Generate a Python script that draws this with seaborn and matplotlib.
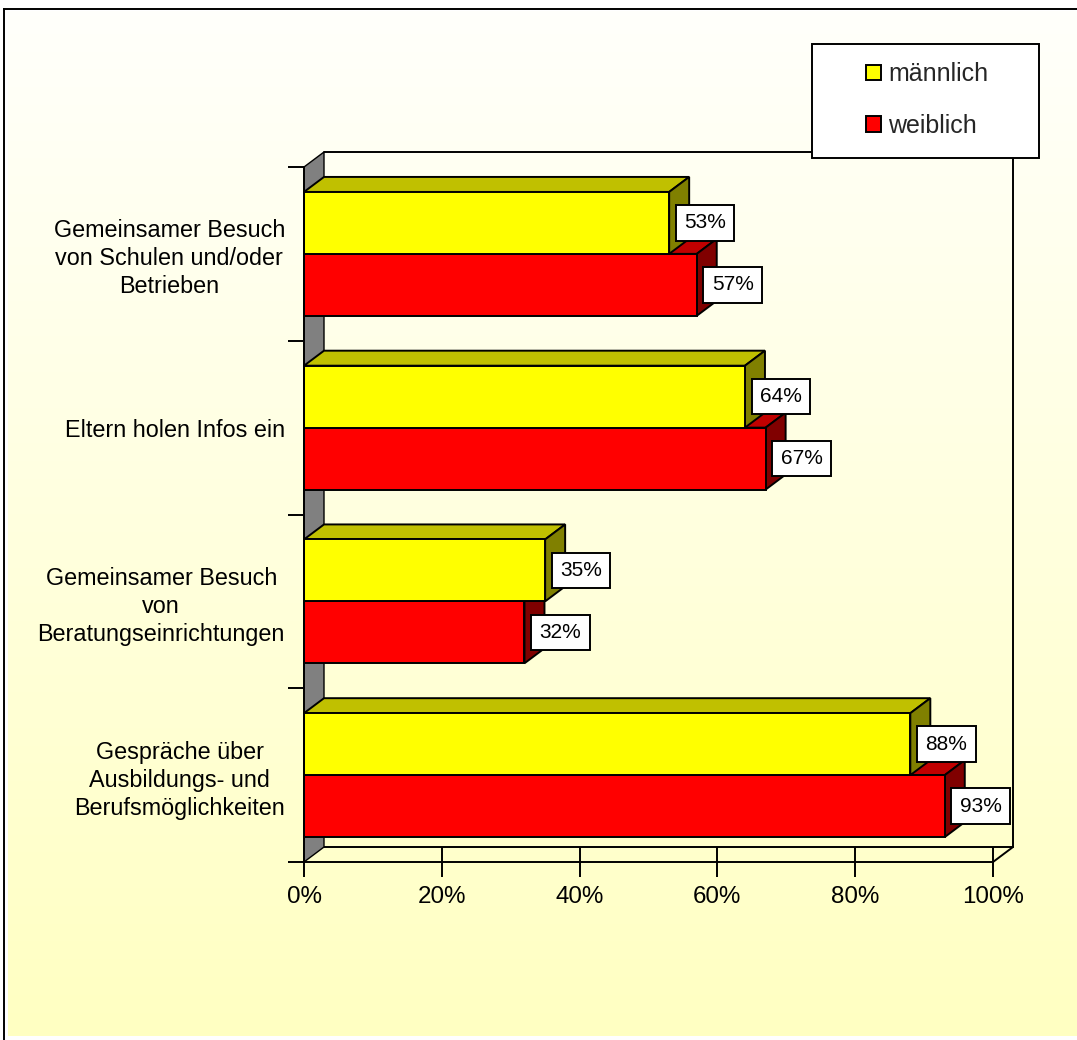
import numpy as np
import pandas as pd
import matplotlib
matplotlib.use("Agg")
import matplotlib.pyplot as plt
from matplotlib.patches import Polygon, Rectangle
from matplotlib.transforms import offset_copy
import seaborn as sns

# ---- data -------------------------------------------------------------
categories = [
    "Gemeinsamer Besuch\nvon Schulen und/oder\nBetrieben",
    "Eltern holen Infos ein",
    "Gemeinsamer Besuch\nvon\nBeratungseinrichtungen",
    "Gespräche über\nAusbildungs- und\nBerufsmöglichkeiten",
]
series_names = ["männlich", "weiblich"]
maennlich = [53, 64, 35, 88]
weiblich = [57, 67, 32, 93]
x_ticks = [0, 20, 40, 60, 80, 100]
x_tick_labels = ["0%", "20%", "40%", "60%", "80%", "100%"]

# ---- styling ------------------------------------------------------------
front_colors = {"männlich": "#FFFF00", "weiblich": "#FF0000"}
top_colors = {"männlich": "#C0C000", "weiblich": "#C00000"}
side_colors = {"männlich": "#808000", "weiblich": "#800000"}
LW = 1.4
DEPTH_PX = (20, 15)  # 3D depth of bars and walls, in pixels (right, up)

sns.set_style("ticks")
plt.rcParams["font.family"] = ["Liberation Sans", "DejaVu Sans"]

W, H, DPI = 1077, 1040, 100
fig = plt.figure(figsize=(W / DPI, H / DPI), dpi=DPI)
fig.patch.set_facecolor("white")

# ---- background: soft vertical gradient with frame -----------------------
bg = fig.add_axes([0, 0, 1, 1], zorder=0)
grad = np.linspace(0, 1, 256)[:, None, None]
c_top = np.array([1.0, 1.0, 0.985])
c_bot = np.array([1.0, 1.0, 0.76])
img = c_top + (c_bot - c_top) * grad
bg.imshow(img, extent=(8, W, 1036, 11), aspect="auto", interpolation="bilinear")
bg.plot([4, 4], [9, H], color="black", lw=LW, solid_capstyle="projecting")
bg.plot([4, W], [9, 9], color="black", lw=LW, solid_capstyle="projecting")
bg.set_xlim(0, W)
bg.set_ylim(H, 0)
bg.axis("off")

# ---- main axes ------------------------------------------------------------
ax = fig.add_axes([304 / W, 1 - 862 / H, 689 / W, 695 / H], zorder=1)
ax.set_facecolor("none")

df = pd.DataFrame({
    "Kategorie": categories * 2,
    "Geschlecht": [series_names[0]] * 4 + [series_names[1]] * 4,
    "Anteil": maennlich + weiblich,
})
sns.barplot(
    data=df, x="Anteil", y="Kategorie", hue="Geschlecht",
    order=categories, hue_order=series_names, palette=front_colors,
    orient="h", width=0.713, saturation=1, errorbar=None,
    edgecolor="black", linewidth=LW, legend=False, ax=ax,
)
ax.set_xlim(0, 100)
ax.set_ylim(3.5, -0.5)
ax.set_xlabel("")
ax.set_ylabel("")

# depth offset expressed in data units
p0 = ax.transData.transform((0, 0))
back = ax.transData.inverted().transform(p0 + np.array(DEPTH_PX, dtype=float))
dxd, dyd = back[0], back[1]

y_top, y_bot = -0.5, 3.5

# left wall (grey side plane)
ax.add_patch(Polygon(
    [(0, y_bot), (0, y_top), (dxd, y_top + dyd), (dxd, y_bot + dyd)],
    closed=True, fc="#808080", ec="black", lw=1.0, zorder=1.2, clip_on=False))

# back wall and floor outlines
wall_kw = dict(color="black", lw=LW, zorder=1.1, clip_on=False)
ax.plot([dxd, 100 + dxd], [y_top + dyd, y_top + dyd], **wall_kw)
ax.plot([100 + dxd, 100 + dxd], [y_top + dyd, y_bot + dyd], **wall_kw)
ax.plot([dxd, 100 + dxd], [y_bot + dyd, y_bot + dyd], **wall_kw)
ax.plot([100 + dxd, 100], [y_bot + dyd, y_bot], **wall_kw)

# 3D faces for every bar (weiblich drawn behind männlich)
base_z = {"weiblich": 2.0, "männlich": 2.4}
for container, name in zip(ax.containers, series_names):
    for bar in container:
        x0, y0 = bar.get_x(), bar.get_y()
        x1, y1 = x0 + bar.get_width(), y0 + bar.get_height()
        top_face = [(x0, y0), (x1, y0), (x1 + dxd, y0 + dyd), (x0 + dxd, y0 + dyd)]
        side_face = [(x1, y0), (x1 + dxd, y0 + dyd), (x1 + dxd, y1 + dyd), (x1, y1)]
        ax.add_patch(Polygon(top_face, closed=True, fc=top_colors[name],
                             ec="black", lw=LW, zorder=base_z[name], clip_on=False))
        ax.add_patch(Polygon(side_face, closed=True, fc=side_colors[name],
                             ec="black", lw=LW, zorder=base_z[name], clip_on=False))
        bar.set_zorder(base_z[name] + 0.1)
        bar.set_clip_on(False)

# value labels in white boxes
label_tr = offset_copy(ax.transData, fig=fig, x=15, y=0, units="dots")
for container, vals in zip(ax.containers, [maennlich, weiblich]):
    for bar, v in zip(container, vals):
        yc = bar.get_y() + bar.get_height() / 2
        ax.text(v, yc, f"{v}%", transform=label_tr, ha="left", va="center",
                fontsize=15, color="black", zorder=6, clip_on=False,
                bbox=dict(boxstyle="square,pad=0.4", fc="white", ec="black", lw=LW))

# axes, ticks and labels
for s in ["top", "right"]:
    ax.spines[s].set_visible(False)
for s in ["left", "bottom"]:
    ax.spines[s].set_color("black")
    ax.spines[s].set_linewidth(LW)
    ax.spines[s].set_zorder(2.9)

ax.set_xticks(x_ticks, x_tick_labels)
ax.tick_params(axis="x", bottom=True, direction="inout", length=22.3, width=LW,
               pad=6, labelsize=17.4, color="black", labelcolor="black")
ax.set_yticks(range(len(categories)), categories)
ax.set_yticks([-0.5, 0.5, 1.5, 2.5, 3.5], minor=True)
ax.tick_params(axis="y", which="major", left=True, length=0, pad=13.7,
               labelsize=16.8, labelcolor="black")
ax.tick_params(axis="y", which="minor", left=True, direction="out", length=11.5,
               width=LW, color="black")
for lbl in ax.get_yticklabels():
    lbl.set_multialignment("center")
    lbl.set_linespacing(1.28)

# legend with boxed frame
fig.add_artist(Rectangle((812 / W, 1 - 158 / H), 227 / W, 114 / H,
                         transform=fig.transFigure, fc="white", ec="black",
                         lw=LW, zorder=4))
handles = [Rectangle((0, 0), 1, 1, fc=front_colors[n], ec="black", lw=LW)
           for n in series_names]
leg = fig.legend(handles, series_names, loc="center",
                 bbox_to_anchor=(927 / W, 1 - 100 / H), frameon=False,
                 fontsize=18, handlelength=0.6, handleheight=0.6,
                 handletextpad=0.3, labelspacing=1.1, borderpad=0,
                 borderaxespad=0)
leg.set_zorder(5)

fig.savefig("out.png", dpi=DPI)
